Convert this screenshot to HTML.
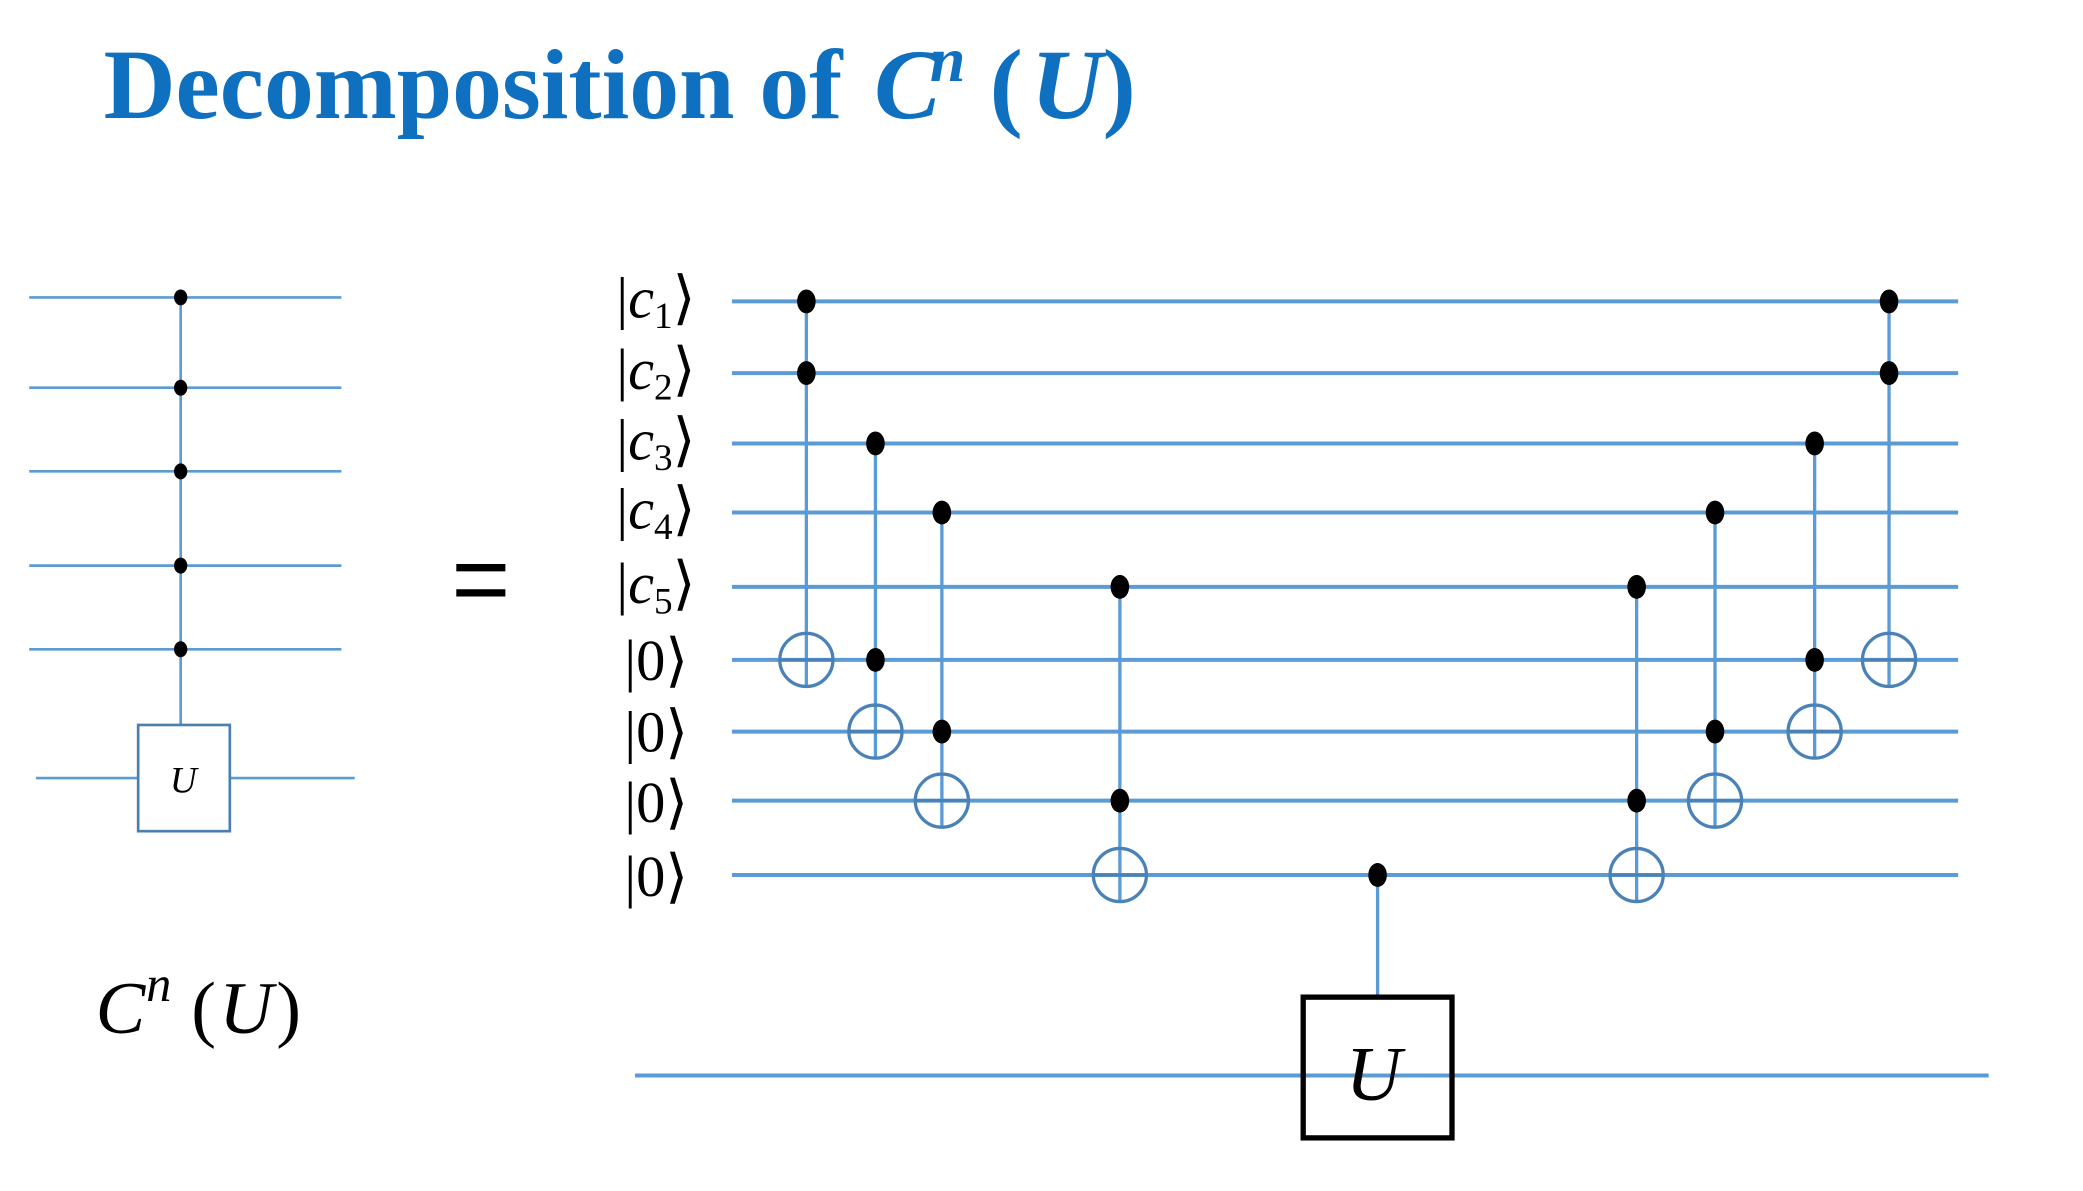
<!DOCTYPE html>
<html><head><meta charset="utf-8"><style>
html,body{margin:0;padding:0;background:#fff;}
svg{display:block;}
</style></head><body>
<svg width="2083" height="1191" viewBox="0 0 1568 897" preserveAspectRatio="none" xmlns="http://www.w3.org/2000/svg">
<rect width="1568" height="897" fill="#fff"/>
<text x="78" y="89" font-family="Liberation Serif, serif" font-weight="bold" font-size="75" fill="#1070c0">Decomposition of<tspan x="658" font-style="italic">C</tspan><tspan x="700" font-style="italic" font-size="48" dy="-28">n</tspan><tspan x="745" dy="28">(</tspan><tspan x="776" font-style="italic">U</tspan><tspan x="830">)</tspan></text>
<g id="left" stroke="#5b9bd5" stroke-width="2">
<line x1="22" y1="224" x2="257" y2="224"/><line x1="22" y1="292" x2="257" y2="292"/><line x1="22" y1="355" x2="257" y2="355"/><line x1="22" y1="426" x2="257" y2="426"/><line x1="22" y1="489" x2="257" y2="489"/>
<line x1="27" y1="586" x2="267" y2="586"/>
<line x1="136" y1="224" x2="136" y2="546"/>
<rect x="104" y="546" width="69" height="80" fill="#fff" stroke="#4a7fb0"/>
</g>
<g fill="#000">
<ellipse cx="136" cy="224" rx="5" ry="6"/><ellipse cx="136" cy="292" rx="5" ry="6"/><ellipse cx="136" cy="355" rx="5" ry="6"/><ellipse cx="136" cy="426" rx="5" ry="6"/><ellipse cx="136" cy="489" rx="5" ry="6"/>
</g>
<text x="138" y="597" text-anchor="middle" font-family="Liberation Serif, serif" font-style="italic" font-size="28">U</text>
<text x="72" y="778" font-family="Liberation Serif, serif" font-size="56"><tspan font-style="italic">C</tspan><tspan x="110" font-style="italic" font-size="38" dy="-24">n</tspan><tspan x="144" dy="24">(</tspan><tspan x="165" font-style="italic">U</tspan><tspan x="208">)</tspan></text>
<text x="362" y="462" text-anchor="middle" font-family="Liberation Sans, sans-serif" font-size="76">=</text>
<g id="right"></g>
<g font-family="Liberation Serif, serif" font-size="44">
<text x="464" y="239">|<tspan font-style="italic">c</tspan><tspan font-size="28" dy="8">1</tspan><tspan dy="-8">⟩</tspan></text>
<text x="464" y="293">|<tspan font-style="italic">c</tspan><tspan font-size="28" dy="8">2</tspan><tspan dy="-8">⟩</tspan></text>
<text x="464" y="346">|<tspan font-style="italic">c</tspan><tspan font-size="28" dy="8">3</tspan><tspan dy="-8">⟩</tspan></text>
<text x="464" y="398">|<tspan font-style="italic">c</tspan><tspan font-size="28" dy="8">4</tspan><tspan dy="-8">⟩</tspan></text>
<text x="464" y="454">|<tspan font-style="italic">c</tspan><tspan font-size="28" dy="8">5</tspan><tspan dy="-8">⟩</tspan></text>
<text x="470" y="512">|0⟩</text>
<text x="470" y="566">|0⟩</text>
<text x="470" y="619">|0⟩</text>
<text x="470" y="675">|0⟩</text>
</g>
<script>
const wireYs=[227,281,334,386,442,497,551,603,659];
const gateCols=[607,659,709,843,1232,1291,1366,1422];
const gateControls=[[0,1],[2,5],[3,6],[4,7],[4,7],[3,6],[2,5],[0,1]];
const gateTargets=[5,6,7,8,8,7,6,5];
const NS='http://www.w3.org/2000/svg';
const g=document.getElementById('right');
function mk(t,a){const e=document.createElementNS(NS,t);for(const k in a)e.setAttribute(k,a[k]);g.appendChild(e);return e;}
wireYs.forEach((y,i)=>{const l=mk('line',{x1:551,y1:y,x2:1474,y2:y,stroke:'#5b9bd5','stroke-width':3});

});
const bw=mk('line',{x1:478,y1:810,x2:1497,y2:810,stroke:'#5b9bd5','stroke-width':3});


gateCols.forEach((x,i)=>{
 const ys=gateControls[i].map(k=>wireYs[k]);const ty=wireYs[gateTargets[i]];
 const top=Math.min(...ys),bot=Math.max(...ys,ty)+20;
 const v=mk('line',{x1:x,y1:top,x2:x,y2:bot,stroke:'#5b9bd5','stroke-width':2.5});
 
 
 ys.forEach(y=>{const d=mk('ellipse',{cx:x,cy:y,rx:7,ry:9,fill:'#000'});
 
 });
 const c=mk('circle',{cx:x,cy:ty,r:20,fill:'none',stroke:'#4a82b8','stroke-width':2.5});
 
 
 mk('line',{x1:x-20,y1:ty,x2:x+20,y2:ty,stroke:'#4a82b8','stroke-width':2.5});
});
const cu=mk('line',{x1:1037,y1:659,x2:1037,y2:751,stroke:'#5b9bd5','stroke-width':2.5});


const cd=mk('ellipse',{cx:1037,cy:659,rx:7,ry:9,fill:'#000'});


const ub=mk('rect',{x:981,y:751,width:112,height:106,fill:'none',stroke:'#000','stroke-width':4});


const ut=mk('text',{x:1034,y:828,'text-anchor':'middle','font-family':'Liberation Serif, serif','font-style':'italic','font-size':58});
ut.textContent='U';


</script>
</svg>
</body></html>
